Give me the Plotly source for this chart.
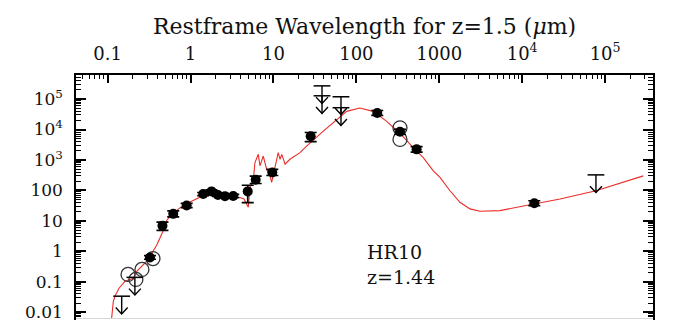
import numpy as np
import plotly.graph_objects as go

# ---------------- data (rest-frame wavelength in micron, flux) ----------------
det_wave = [0.324, 0.458, 0.618, 0.897, 1.42, 1.79, 2.14, 2.60, 3.27,
            4.89, 6.10, 9.68, 28.1, 178.6, 335.7, 533.0, 14000.0]
det_flux = [0.63, 6.9, 17.0, 32.0, 76.0, 93.0, 71.0, 65.0, 66.0,
            93.0, 223.0, 389.0, 6050.0, 35000.0, 8400.0, 2230.0, 38.0]
det_err_up = [0.06, 0.12, 0.10, 0.07, 0.05, 0.05, 0.05, 0.05, 0.05,
              0.20, 0.12, 0.10, 0.12, 0.08, 0.08, 0.09, 0.08]   # dex
det_err_dn = [0.06, 0.15, 0.10, 0.07, 0.05, 0.05, 0.05, 0.05, 0.05,
              0.37, 0.12, 0.10, 0.18, 0.08, 0.08, 0.09, 0.08]   # dex

open_wave = [0.176, 0.219, 0.259, 0.352, 335.7, 335.7]
open_flux = [0.175, 0.12, 0.255, 0.58, 11350.0, 4720.0]

ul_wave = [0.1476, 0.213, 38.5, 38.5, 65.2, 65.2, 77600.0]
ul_flux = [0.0337, 0.140, 271000.0, 128000.0, 119000.0, 52000.0, 324.0]

model_wave = [0.1117, 0.117, 0.1225, 0.137, 0.162, 0.204, 0.224, 0.295, 0.333, 0.390,
              0.469, 0.515, 0.597, 0.745, 0.931, 1.30, 1.71, 1.97, 2.26, 2.67,
              3.16, 3.53, 3.94, 4.41, 4.97, 5.21, 5.70, 5.98, 6.56, 6.87,
              7.53, 8.28, 9.08, 9.51, 10.4, 11.4, 12.0, 12.6, 13.8, 15.8,
              20.9, 25.1, 39.9, 57.8, 76.4, 110.0, 160.0, 232.0, 336.0, 485.0,
              641.0, 847.0, 1019.0, 1346.0, 1774.0, 2344.0, 3097.0, 5395.0, 9397.0, 14000.0,
              28580.0, 77600.0, 151400.0, 289100.0]
model_flux = [0.00646, 0.0226, 0.0339, 0.0617, 0.105, 0.130, 0.220, 0.466, 0.787, 1.58,
              4.86, 10.3, 17.0, 26.7, 38.9, 59.6, 86.7, 95.5, 76.4, 65.8,
              65.8, 55.3, 58.7, 52.5, 28.1, 129.0, 207.0, 822.0, 1535.0, 638.0,
              1349.0, 498.0, 301.0, 184.0, 638.0, 1742.0, 1054.0, 1535.0, 724.0, 1054.0,
              1742.0, 2858.0, 8810.0, 21180.0, 39450.0, 50930.0, 39450.0, 18620.0, 7413.0, 2535.0,
              1197.0, 438.5, 267.0, 97.7, 40.9, 24.8, 20.8, 21.8, 29.4, 36.1,
              52.5, 97.7, 174.0, 301.0]

x_tick_vals = [0.1, 1, 10, 100, 1000, 1e4, 1e5]
x_tick_text = ["0.1", "1", "10", "100", "1000", "10<sup>4</sup>", "10<sup>5</sup>"]
y_tick_vals = [0.01, 0.1, 1, 10, 100, 1e3, 1e4, 1e5]
y_tick_text = ["0.01", "0.1", "1", "10", "100", "10<sup>3</sup>", "10<sup>4</sup>", "10<sup>5</sup>"]

title_text = "Restframe Wavelength for z=1.5 (<i>μ</i>m)"
label_name = "HR10"
label_z = "z=1.44"

# ---------------- figure ----------------
FONT = "DejaVu Serif"
det_flux_a = np.array(det_flux)
err_plus = det_flux_a * (10 ** np.array(det_err_up) - 1)
err_minus = det_flux_a * (1 - 10 ** (-np.array(det_err_dn)))

# upper-limit arrows: shaft from the limit down, plus a chevron head at the tip
SHAFT_DEX = 0.58      # shaft length in flux decades
HEAD_DX = 0.072       # half-width of chevron in wavelength decades
HEAD_DY = 0.21        # height of chevron in flux decades
arr_x, arr_y = [], []
for w, f in zip(ul_wave, ul_flux):
    tip = f * 10 ** (-SHAFT_DEX)
    arr_x += [w, w, None,
              w * 10 ** (-HEAD_DX), w, w * 10 ** HEAD_DX, None]
    arr_y += [f, tip, None,
              tip * 10 ** HEAD_DY, tip, tip * 10 ** HEAD_DY, None]

fig = go.Figure()
fig.add_trace(go.Scatter(x=model_wave, y=model_flux, mode="lines",
                         line=dict(color="rgb(235,45,40)", width=1.1),
                         hoverinfo="skip", showlegend=False))
fig.add_trace(go.Scatter(x=open_wave, y=open_flux, mode="markers",
                         marker=dict(symbol="circle-open", size=14,
                                     line=dict(color="#333", width=1.3), color="#333"),
                         showlegend=False))
fig.add_trace(go.Scatter(x=det_wave, y=det_flux, mode="markers",
                         marker=dict(symbol="circle", size=10, color="black"),
                         error_y=dict(type="data", array=err_plus, arrayminus=err_minus,
                                      color="black", thickness=1.6, width=6),
                         showlegend=False))
fig.add_trace(go.Scatter(x=arr_x, y=arr_y, mode="lines",
                         line=dict(color="black", width=1.4), hoverinfo="skip",
                         connectgaps=False, showlegend=False))
fig.add_trace(go.Scatter(x=ul_wave, y=ul_flux, mode="markers",
                         marker=dict(symbol="line-ew", size=12, color="black",
                                     line=dict(color="black", width=1.5)),
                         showlegend=False))

decades_x = range(-2, 6)
minor_x = [k * 10.0 ** d for d in decades_x for k in range(2, 10)]
decades_y = range(-3, 6)
minor_y = [k * 10.0 ** d for d in decades_y for k in range(2, 10)]

fig.update_xaxes(type="log", range=[-1.382, 5.578], side="top",
                 showline=True, linecolor="black", linewidth=1.5, mirror=False,
                 ticks="inside", ticklen=8, tickwidth=1.5, tickcolor="black",
                 tickvals=x_tick_vals, ticktext=x_tick_text,
                 tickfont=dict(family=FONT, size=18, color="#111"),
                 showgrid=False, zeroline=False, ticklabelstandoff=6,
                 minor=dict(ticks="inside", ticklen=4, tickwidth=1.2, tickcolor="black",
                            tickvals=minor_x, showgrid=False))
fig.update_yaxes(type="log", range=[-2.254, 5.79],
                 showline=True, linecolor="black", linewidth=1.5, mirror="ticks",
                 ticks="inside", ticklen=10, tickwidth=1.5, tickcolor="black",
                 tickvals=y_tick_vals, ticktext=y_tick_text,
                 tickfont=dict(family=FONT, size=17, color="#111"),
                 showgrid=False, zeroline=False, ticklabelstandoff=8,
                 ticklabeloverflow="allow",
                 minor=dict(ticks="inside", ticklen=5, tickwidth=1.0, tickcolor="black",
                            tickvals=minor_y, showgrid=False))

fig.add_annotation(xref="paper", yref="paper", x=0.5, y=1 + 49 / 247,
                   text=title_text, showarrow=False, yanchor="middle",
                   font=dict(family=FONT, size=22, color="#111"))
fig.add_annotation(xref="paper", yref="paper", x=0.5, y=0.279,
                   text=label_name, showarrow=False, xanchor="left", yanchor="middle",
                   font=dict(family=FONT, size=19, color="#111"))
fig.add_annotation(xref="paper", yref="paper", x=0.5, y=0.174,
                   text=label_z, showarrow=False, xanchor="left", yanchor="middle",
                   font=dict(family=FONT, size=19, color="#111"))

fig.add_shape(type="line", xref="paper", yref="paper", x0=0, x1=1, y0=0.006, y1=0.006,
              line=dict(color="#d8d8d8", width=1))

fig.update_layout(width=679, height=322, margin=dict(l=76, r=26, t=75, b=0),
                  paper_bgcolor="white", plot_bgcolor="white", showlegend=False)

fig.write_html("out.html")
